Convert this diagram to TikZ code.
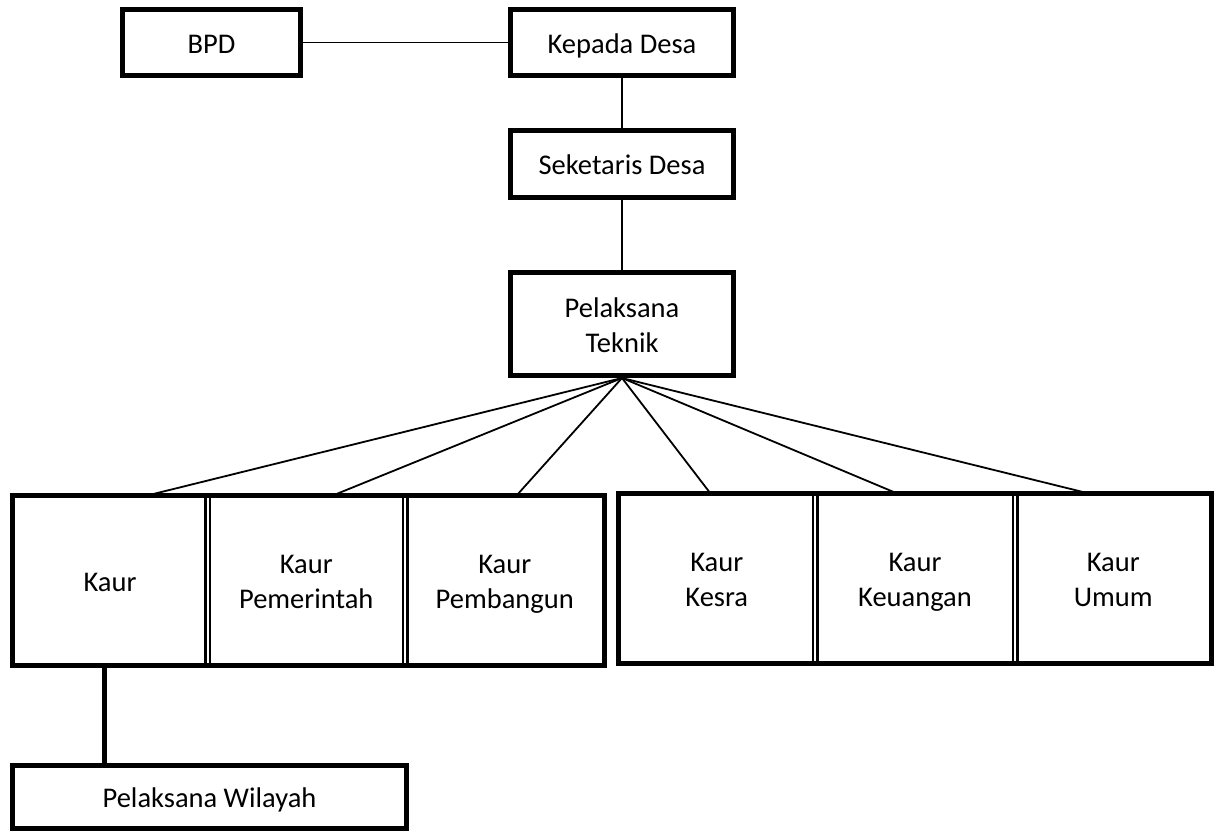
\documentclass[tikz,border=0pt]{standalone}
\usepackage{fontspec}
\setmainfont{Carlito}
\newcommand\zs{\rule[-7pt]{0pt}{35pt}}
\begin{document}
\begin{tikzpicture}[x=1pt,y=-1pt,
  txt/.style={font=\fontsize{28.5}{35}\selectfont, align=center, inner sep=0pt},
  box/.style={txt, draw, line width=5pt},
  cell/.style={txt, minimum width=195pt, minimum height=170pt},
  conn/.style={line width=1.8pt},
  thickconn/.style={line width=5pt},
  dbl/.style={double, double distance=2pt, line width=2.5pt},
  frame/.style={line width=5pt}
]
\useasboundingbox (0,0) rectangle (1221,831);

% top boxes
\node[box, minimum width=178pt, minimum height=66pt] (bpd) at (211.5,42.5) {BPD\zs};
\node[box, minimum width=223pt, minimum height=66pt] (kd) at (622,42.5) {Kepada Desa\zs};
\node[box, minimum width=223pt, minimum height=67pt] (sd) at (622,164) {Seketaris Desa\zs};
\node[box, minimum width=223pt, minimum height=103pt] (pt) at (622,324) {Pelaksana\zs\\Teknik\zs};

% left group cells
\node[cell, minimum width=195pt] (k1) at (110,580.5) {Kaur\zs};
\node[cell, minimum width=197.5pt] (k2) at (306.25,580.5) {Kaur\zs\\Pemerintah\zs};
\node[cell, minimum width=199.5pt] (k3) at (504.75,580.5) {Kaur\zs\\Pembangun\zs};
% right group cells
\node[cell, minimum width=196.5pt, minimum height=169.5pt] (r1) at (716.75,578.75) {Kaur\zs\\Kesra\zs};
\node[cell, minimum width=200pt, minimum height=169.5pt] (r2) at (915,578.75) {Kaur\zs\\Keuangan\zs};
\node[cell, minimum width=196.5pt, minimum height=169.5pt] (r3) at (1113.25,578.75) {Kaur\zs\\Umum\zs};

% bottom box
\node[box, minimum width=394pt, minimum height=63pt] (pw) at (209.5,797) {Pelaksana Wilayah\zs};

% dividers and frames
\draw[dbl] (k1.north east) -- (k1.south east);
\draw[dbl] (k2.north east) -- (k2.south east);
\draw[dbl] (r1.north east) -- (r1.south east);
\draw[dbl] (r2.north east) -- (r2.south east);
\draw[frame] (k1.north west) rectangle (k3.south east);
\draw[frame] (r1.north west) rectangle (r3.south east);

% connectors
\draw[conn] (bpd.east) -- (kd.west);
\draw[conn] (kd.south) -- (sd.north);
\draw[conn] (sd.south) -- (pt.north);
\draw[conn] (pt.south) -- ([xshift=38pt]k1.north);
\draw[conn] (pt.south) -- ([xshift=27pt]k2.north);
\draw[conn] (pt.south) -- ([xshift=12pt]k3.north);
\draw[conn] (pt.south) -- ([xshift=-6pt]r1.north);
\draw[conn] (pt.south) -- ([xshift=-17pt]r2.north);
\draw[conn] (pt.south) -- ([xshift=-23pt]r3.north);
\draw[thickconn] ([xshift=-5.5pt]k1.south) -- ([xshift=-5.5pt]k1.south |- pw.north);
\end{tikzpicture}
\end{document}
